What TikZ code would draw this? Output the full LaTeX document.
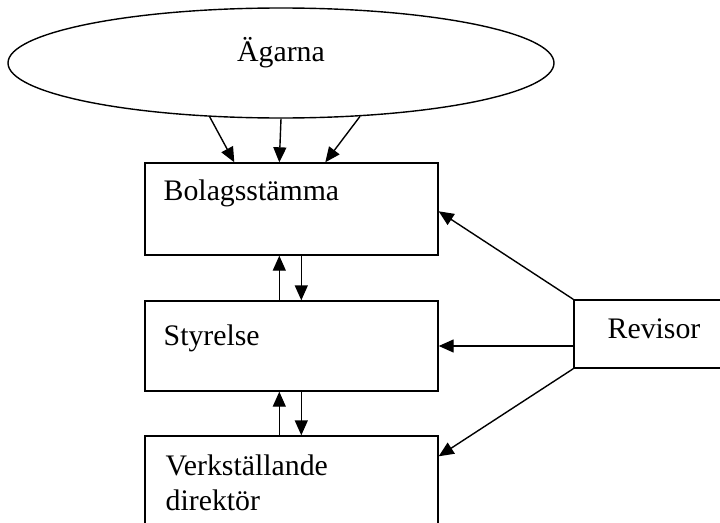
\documentclass[tikz,border=0pt]{standalone}
\usepackage{fontspec}
\setmainfont{Liberation Serif}
\usetikzlibrary{shapes.geometric,arrows.meta,calc}
\begin{document}
\begin{tikzpicture}[x=1pt,y=1pt,
  line width=1.4pt,
  arr/.style={-{Triangle[length=15pt,width=13pt]}},
  boxnode/.style={draw,rectangle,minimum width=293pt,inner sep=0pt},
  lbl/.style={anchor=base west,inner sep=0pt,font=\fontsize{29.8}{35}\selectfont}]
\useasboundingbox (0,0) rectangle (720,-522);
\clip (0,0) rectangle (720,-522);
\node[draw,ellipse,minimum width=546pt,minimum height=110pt,inner sep=0pt] (owners) at (281,-63) {};
\node[anchor=base,inner sep=0pt,font=\fontsize{29.8}{35}\selectfont] (ownerstxt) at (281,-61) {Ägarna};
\node[boxnode,minimum height=92pt] (bolag) at (291.5,-209) {};
\node[boxnode,minimum height=90pt] (styrelse) at (291.5,-346) {};
\node[boxnode,minimum height=94pt] (vd) at (291.5,-483) {};
\node[draw,rectangle,minimum width=156pt,minimum height=68pt,inner sep=0pt] (revisor) at (652,-334) {};
\node[lbl] (bolagtxt) at (163,-200) {Bolagsstämma};
\node[lbl] (styrtxt) at (163,-345) {Styrelse};
\node[lbl] (vdtxt1) at (165,-475) {Verkställande};
\node[lbl] (vdtxt2) at (165,-510) {direktör};
\node[lbl] (revtxt) at (607,-338) {Revisor};
% owners -> bolag
\draw[arr] (owners.217.5) -- ($(bolag.north west)+(90,0)$);
\draw[arr] (owners.south) -- ($(bolag.north west)+(135,0)$);
\draw[arr] (owners.326.5) -- ($(bolag.north west)+(181,0)$);
% bolag <-> styrelse
\draw[arr] ($(styrelse.north west)+(135,0)$) -- ($(bolag.south west)+(135,0)$);
\draw[arr] ($(bolag.south west)+(157,0)$) -- ($(styrelse.north west)+(157,0)$);
% styrelse <-> vd
\draw[arr] ($(vd.north west)+(135,0)$) -- ($(styrelse.south west)+(135,0)$);
\draw[arr] ($(styrelse.south west)+(157,0)$) -- ($(vd.north west)+(157,0)$);
% revisor
\draw[arr] (revisor.north west) -- ($(bolag.north east)+(0,-49)$);
\draw[arr] (revisor.west |- styrelse.east) -- (styrelse.east);
\draw[arr] (revisor.south west) -- ($(vd.north east)+(0,-21)$);
\end{tikzpicture}
\end{document}
